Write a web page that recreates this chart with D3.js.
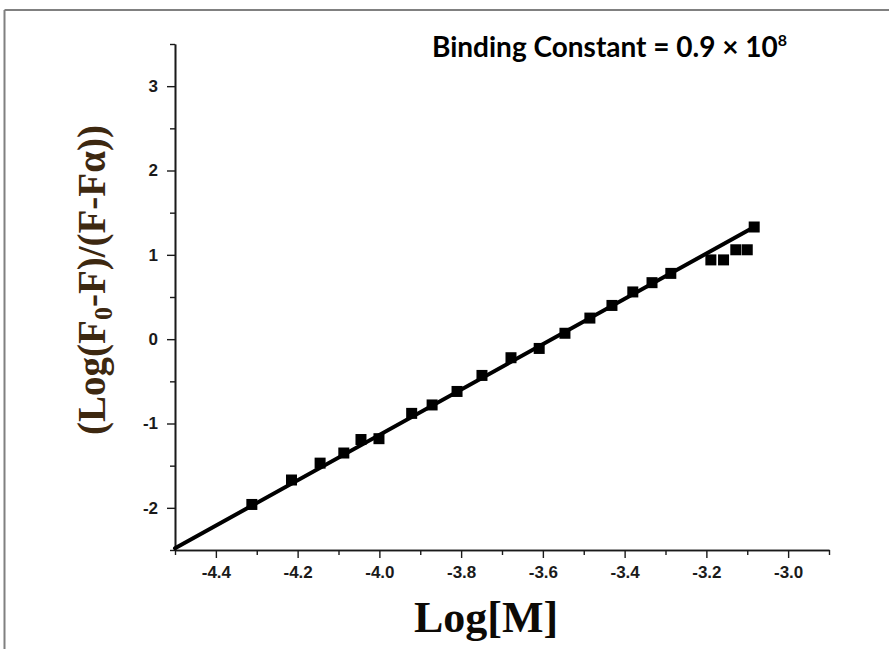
<!DOCTYPE html>
<html>
<head>
<meta charset="utf-8">
<script src="https://cdn.jsdelivr.net/npm/d3@7"></script>
<style>
  html, body { margin: 0; padding: 0; background: #fff; }
  svg { display: block; }
</style>
</head>
<body>
<svg id="chart" width="889" height="649"></svg>
<script>
// Measured points: log of quencher concentration vs log of fluorescence ratio
const logM = [-4.312, -4.215, -4.145, -4.087, -4.045, -4.001, -3.921, -3.871, -3.810,
  -3.749, -3.678, -3.609, -3.546, -3.485, -3.431, -3.380, -3.333, -3.287,
  -3.189, -3.158, -3.128, -3.100, -3.083];
const logRatio = [-1.96, -1.67, -1.47, -1.35, -1.19, -1.18, -0.88, -0.78, -0.62,
  -0.43, -0.22, -0.11, 0.07, 0.25, 0.40, 0.56, 0.67, 0.78,
  0.94, 0.94, 1.06, 1.06, 1.33];

// Linear fit end points
const fitX = [-4.5, -3.083];
const fitY = [-2.48, 1.33];

// Axis ticks
const xMajor = [-4.4, -4.2, -4.0, -3.8, -3.6, -3.4, -3.2, -3.0];
const xMinor = [-4.5, -4.3, -4.1, -3.9, -3.7, -3.5, -3.3, -3.1, -2.9];
const yMajor = [-2, -1, 0, 1, 2, 3];
const yMinor = [-2.5, -1.5, -0.5, 0.5, 1.5, 2.5, 3.5];

const titleText = "Binding Constant = 0.9 \u00d7 10";
const titleExp = "8";
const xTitle = "Log[M]";

const svg = d3.select("#chart");

// Frame lines along the top and left of the canvas
svg.append("line").attr("x1", 4.5).attr("y1", 10).attr("x2", 889).attr("y2", 10)
  .attr("stroke", "#808080").attr("stroke-width", 2);
svg.append("line").attr("x1", 4.5).attr("y1", 10).attr("x2", 4.5).attr("y2", 649)
  .attr("stroke", "#808080").attr("stroke-width", 2);

const x = d3.scaleLinear().domain([-4.5, -2.9]).range([175, 829]);
const y = d3.scaleLinear().domain([-2.5, 3.5]).range([550, 44]);

const axisColor = "#1a1a1a";

// X axis: minor ticks, then major ticks with labels
const gxMinor = svg.append("g").attr("transform", "translate(0,550)")
  .call(d3.axisBottom(x).tickValues(xMinor).tickSize(5).tickSizeOuter(0).tickFormat(""));
const gx = svg.append("g").attr("transform", "translate(0,550)")
  .call(d3.axisBottom(x).tickValues(xMajor).tickSize(8).tickSizeOuter(0).tickPadding(8)
    .tickFormat(d => d.toFixed(1)));

// Y axis
const gyMinor = svg.append("g").attr("transform", "translate(175,0)")
  .call(d3.axisLeft(y).tickValues(yMinor).tickSize(5).tickSizeOuter(0).tickFormat(""));
const gy = svg.append("g").attr("transform", "translate(175,0)")
  .call(d3.axisLeft(y).tickValues(yMajor).tickSize(8).tickSizeOuter(0).tickPadding(9)
    .tickFormat(d => String(d)));

[gxMinor, gx, gyMinor, gy].forEach(g => {
  g.select(".domain").attr("stroke", axisColor).attr("stroke-width", 1.6);
  g.selectAll(".tick line").attr("stroke", axisColor).attr("stroke-width", 1.4);
  g.selectAll(".tick text")
    .attr("fill", "#1a1a1a")
    .attr("font-family", "'Liberation Sans', Arial, sans-serif")
    .attr("font-weight", "bold")
    .attr("font-size", 17);
});

// Fit line
const line = d3.line().x(d => x(d[0])).y(d => y(d[1]));
svg.append("path")
  .datum(d3.zip(fitX, fitY))
  .attr("d", line)
  .attr("fill", "none")
  .attr("stroke", "#000")
  .attr("stroke-width", 4)
  .attr("stroke-linecap", "round");

// Square markers
const s = 11;
svg.append("g").selectAll("rect")
  .data(d3.zip(logM, logRatio))
  .join("rect")
  .attr("x", d => x(d[0]) - s / 2)
  .attr("y", d => y(d[1]) - s / 2)
  .attr("width", s)
  .attr("height", s)
  .attr("fill", "#000");

// Title with superscript exponent
const title = svg.append("text")
  .attr("x", 432).attr("y", 57)
  .style("font-family", "Lato, 'Open Sans', sans-serif")
  .style("font-weight", "bold")
  .style("font-size", "28px")
  .attr("fill", "#000");
title.append("tspan").text(titleText);
title.append("tspan").attr("dy", -11).style("font-size", "16px").text(titleExp);

// X axis title
svg.append("text")
  .attr("x", 486).attr("y", 632)
  .attr("text-anchor", "middle")
  .style("font-family", "'Liberation Serif', 'Times New Roman', serif")
  .style("font-weight", "bold")
  .style("font-size", "44px")
  .attr("fill", "#0d0a06")
  .text(xTitle);

// Y axis title: (Log(F0-F)/(F-Fα)) with subscript zero
const yt = svg.append("text")
  .attr("transform", "translate(105,280) rotate(-90)")
  .attr("text-anchor", "middle")
  .style("font-family", "'Liberation Serif', 'Times New Roman', serif")
  .style("font-weight", "bold")
  .style("font-size", "39px")
  .attr("fill", "#3d2810");
yt.append("tspan").text("(Log(F");
yt.append("tspan").attr("dy", 7).style("font-size", "26px").text("0");
yt.append("tspan").attr("dy", -7).text("-F)/(F-F\u03b1))");
</script>
</body>
</html>
